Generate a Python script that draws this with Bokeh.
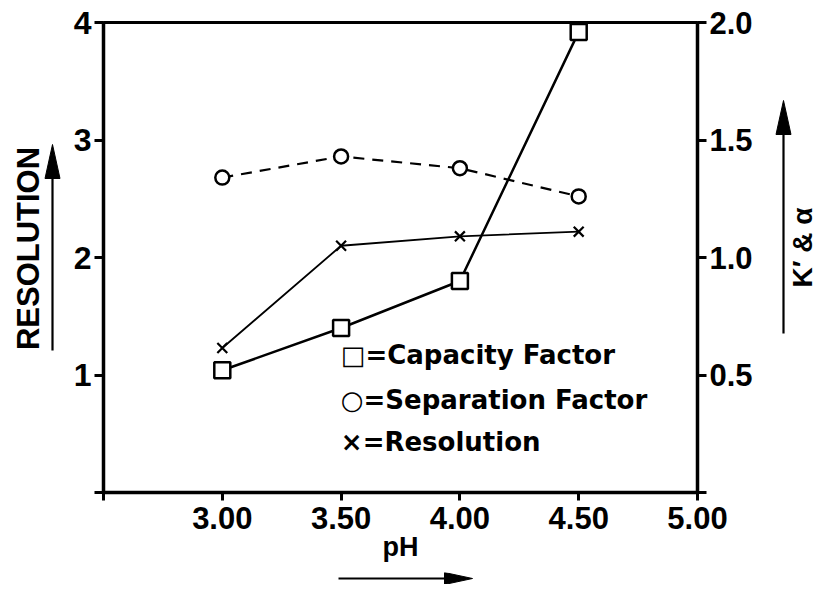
import math
from bokeh.plotting import figure
from bokeh.layouts import column, row
from bokeh.models import Range1d, LinearAxis, FixedTicker
from bokeh.core.properties import value
from bokeh.embed import file_html
from bokeh.resources import INLINE

# ---- data ----
ph = [3.0, 3.5, 4.0, 4.5]
capacity_factor = [0.52, 0.70, 0.90, 1.96]     # right axis (K')
separation_factor = [1.34, 1.43, 1.38, 1.26]   # right axis (alpha)
resolution = [1.23, 2.10, 2.18, 2.22]          # left axis

x_ticks = [2.5, 3.0, 3.5, 4.0, 4.5, 5.0]
x_tick_labels = ["", "3.00", "3.50", "4.00", "4.50", "5.00"]
left_ticks = [0, 1, 2, 3, 4]
left_tick_labels = ["", "1", "2", "3", "4"]
right_ticks = [0.0, 0.5, 1.0, 1.5, 2.0]
right_tick_labels = ["", "0.5", "1.0", "1.5", "2.0"]
legend_labels = ["\u25a1=Capacity Factor", "\u25cb=Separation Factor", "\u00d7=Resolution"]

FONT = "Liberation Sans"
W, H = 819, 584
LEFT_W, MAIN_W = 62, 708
RIGHT_W = W - LEFT_W - MAIN_W
TOP_H = 572
BOT_H = H - TOP_H
FRAME_TOP, FRAME_BOTTOM = 22, 492

# ---- main plot ----
p = figure(width=MAIN_W, height=TOP_H, x_range=Range1d(2.5, 5.0), y_range=Range1d(0, 4),
           output_backend="svg", toolbar_location=None,
           min_border_left=41, min_border_right=73, min_border_top=FRAME_TOP,
           min_border_bottom=TOP_H - FRAME_BOTTOM)
p.extra_y_ranges = {"k": Range1d(0, 2)}
p.xgrid.visible = False
p.ygrid.visible = False
p.outline_line_color = "black"
p.outline_line_width = 3


def style_axis(ax, ticks, labels, size="32px"):
    ax.ticker = FixedTicker(ticks=ticks)
    ax.major_label_overrides = {t: l for t, l in zip(ticks, labels)}
    ax.minor_tick_line_color = None
    ax.major_tick_in = 0
    ax.major_tick_out = 9
    ax.major_tick_line_width = 3
    ax.axis_line_width = 3.5
    ax.axis_line_color = "black"
    ax.major_tick_line_color = "black"
    ax.major_label_text_font = FONT
    ax.major_label_text_font_style = "bold"
    ax.major_label_text_font_size = size
    ax.major_label_text_color = "black"


style_axis(p.xaxis[0], x_ticks, x_tick_labels, "31px")
p.xaxis[0].major_tick_out = 8
p.xaxis[0].major_label_standoff = 6
p.xaxis[0].axis_label = "pH"
p.xaxis[0].axis_label_text_font = FONT
p.xaxis[0].axis_label_text_font_style = "bold"
p.xaxis[0].axis_label_text_font_size = "27px"
p.xaxis[0].axis_label_text_color = "black"
p.xaxis[0].axis_label_standoff = 0

style_axis(p.yaxis[0], left_ticks, left_tick_labels)
p.yaxis[0].major_label_standoff = 3

raxis = LinearAxis(y_range_name="k")
style_axis(raxis, right_ticks, right_tick_labels, "31px")
raxis.major_label_standoff = 3
p.add_layout(raxis, "right")

# ---- data series ----
p.line(ph, capacity_factor, y_range_name="k", line_color="black", line_width=2.5)
p.scatter(ph, capacity_factor, y_range_name="k", marker="square", size=16,
          line_color="black", line_width=2.5, fill_color="white")

p.line(ph, separation_factor, y_range_name="k", line_color="black", line_width=2.2,
       line_dash="11 8")
p.scatter(ph, separation_factor, y_range_name="k", marker="circle", size=14,
          line_color="black", line_width=2.5, fill_color="white")

p.line(ph, resolution, line_color="black", line_width=1.8)
p.scatter(ph, resolution, marker="x", size=14, line_color="black", line_width=2.2)

# legend (text inside the plot area)
leg_x = [3.499] * 3
leg_y = [1.174, 0.791, 0.426]
p.text(x=leg_x, y=leg_y, text=legend_labels, text_font=value("DejaVu Sans"),
       text_font_style="bold", text_font_size="26px", text_baseline="middle",
       text_align="left", text_color="black")


# ---- side panels: data y = -(pixel row of the page), frames aligned with main frame ----
def side_fig(w):
    f = figure(width=w, height=TOP_H, x_range=Range1d(0, w),
               y_range=Range1d(-FRAME_BOTTOM, -FRAME_TOP),
               output_backend="svg", toolbar_location=None,
               min_border_left=0, min_border_right=0, min_border_top=FRAME_TOP,
               min_border_bottom=TOP_H - FRAME_BOTTOM,
               x_axis_type=None, y_axis_type=None)
    f.outline_line_color = None
    f.grid.visible = False
    return f


def v_arrow(f, x, y_tail, y_tip, head_len=34, head_w=15):
    f.segment(x0=[x], y0=[-y_tail], x1=[x], y1=[-(y_tip + head_len - 2)],
              line_color="black", line_width=2.2)
    f.patch([x - head_w / 2, x, x + head_w / 2],
            [-(y_tip + head_len), -y_tip, -(y_tip + head_len)],
            fill_color="black", line_color="black", line_width=1)


left = side_fig(LEFT_W)
left.text(x=[28], y=[-248], text=["RESOLUTION"], angle=math.pi / 2,
          text_font=value(FONT), text_font_style="bold", text_font_size="31px",
          text_align="center", text_baseline="middle", text_color="black")
v_arrow(left, 52, 350, 144)

off = LEFT_W + MAIN_W
right = side_fig(RIGHT_W)
right.text(x=[802 - off], y=[-247], text=["K\u2032 & \u03b1"],
           angle=math.pi / 2, text_font=value(FONT), text_font_style="bold",
           text_font_size="28px", text_align="center", text_baseline="middle",
           text_color="black")
v_arrow(right, 783 - off, 333, 100)

bottom = figure(width=W, height=BOT_H, x_range=Range1d(0, W), y_range=Range1d(0, BOT_H),
                output_backend="svg", toolbar_location=None, min_border=0,
                x_axis_type=None, y_axis_type=None)
bottom.outline_line_color = None
bottom.grid.visible = False
bottom.segment(x0=[338], y0=[BOT_H / 2], x1=[446], y1=[BOT_H / 2],
               line_color="black", line_width=2.2)
bottom.patch([444, 472, 444], [BOT_H / 2 - 6, BOT_H / 2, BOT_H / 2 + 6],
             fill_color="black", line_color="black", line_width=1)

layout = column(row(left, p, right, spacing=0), bottom, spacing=0)
open("out.html", "w").write(file_html(layout, INLINE))
